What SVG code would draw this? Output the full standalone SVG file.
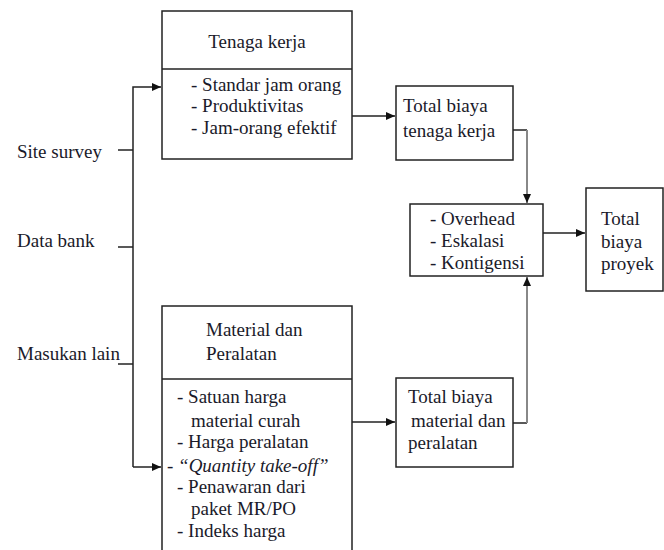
<svg xmlns="http://www.w3.org/2000/svg" width="664" height="550" viewBox="0 0 664 550">
<defs>
<marker id="ah" markerWidth="10" markerHeight="10" refX="9" refY="5" orient="auto" markerUnits="userSpaceOnUse">
<path d="M0,1 L9,5 L0,9 Z" fill="#111"/>
</marker>
</defs>
<style>
text{font-family:'Liberation Serif','Times New Roman',Times,serif;font-size:19px;fill:#1a1a2a}
.box{fill:#fff;stroke:#222;stroke-width:1.5}
.ln{fill:none;stroke:#222;stroke-width:1.5}
.gr{fill:none;stroke:#888;stroke-width:2}
</style>
<rect width="664" height="550" fill="#fff"/>
<g id="inputs">
<text x="17" y="158">Site survey</text>
<text x="17" y="247">Data bank</text>
<text x="17" y="360">Masukan lain</text>
</g>
<g id="tenaga-kerja">
<rect class="box" x="162" y="11" width="190" height="148"/>
<line class="ln" x1="162" y1="69" x2="352" y2="69"/>
<text x="257" y="48" text-anchor="middle">Tenaga kerja</text>
<text x="191" y="91">- Standar jam orang</text>
<text x="191" y="112">- Produktivitas</text>
<text x="191" y="134">- Jam-orang efektif</text>
</g>
<g id="material">
<rect class="box" x="162" y="306" width="190" height="260"/>
<line class="ln" x1="162" y1="379" x2="352" y2="379"/>
<text x="206" y="336">Material dan</text>
<text x="206" y="360">Peralatan</text>
<text x="177" y="403">- Satuan harga</text>
<text x="191" y="427">material curah</text>
<text x="177" y="448">- Harga peralatan</text>
<text x="167" y="472">- <tspan font-style="italic">“Quantity take-off”</tspan></text>
<text x="177" y="493">- Penawaran dari</text>
<text x="191" y="515">paket MR/PO</text>
<text x="177" y="537">- Indeks harga</text>
</g>
<g id="total-tenaga">
<rect class="box" x="396" y="86" width="117" height="74"/>
<text x="403" y="112">Total biaya</text>
<text x="403" y="137">tenaga kerja</text>
</g>
<g id="total-material">
<rect class="box" x="396" y="378" width="117" height="89"/>
<text x="408" y="403">Total biaya</text>
<text x="411" y="427">material dan</text>
<text x="408" y="449">peralatan</text>
</g>
<g id="overhead">
<rect class="box" x="410" y="204" width="133" height="72"/>
<text x="430" y="225">- Overhead</text>
<text x="430" y="247">- Eskalasi</text>
<text x="430" y="269">- Kontigensi</text>
</g>
<g id="total-proyek">
<rect class="box" x="586" y="188" width="77" height="103"/>
<text x="601" y="225">Total</text>
<text x="601" y="248">biaya</text>
<text x="601" y="270">proyek</text>
</g>
<g id="connectors">
<line class="ln" x1="118" y1="150" x2="133" y2="150"/>
<line class="ln" x1="118" y1="247" x2="133" y2="247"/>
<line class="ln" x1="118" y1="364" x2="133" y2="364"/>
<path class="ln" d="M133,467 L133,87 L161,87" marker-end="url(#ah)"/>
<path class="ln" d="M133,467 L161,467" marker-end="url(#ah)"/>
<path class="ln" d="M352,116 L395,116" marker-end="url(#ah)"/>
<path class="ln" d="M352,422 L395,422" marker-end="url(#ah)"/>
<path class="ln" d="M513,130 L527,130"/>
<path class="gr" d="M527,130 L527,203" marker-end="url(#ah)"/>
<path class="ln" d="M513,423 L527,423"/>
<path class="gr" d="M527,423 L527,277" marker-end="url(#ah)"/>
<path class="ln" d="M543,233 L585,233" marker-end="url(#ah)"/>
</g>
</svg>
